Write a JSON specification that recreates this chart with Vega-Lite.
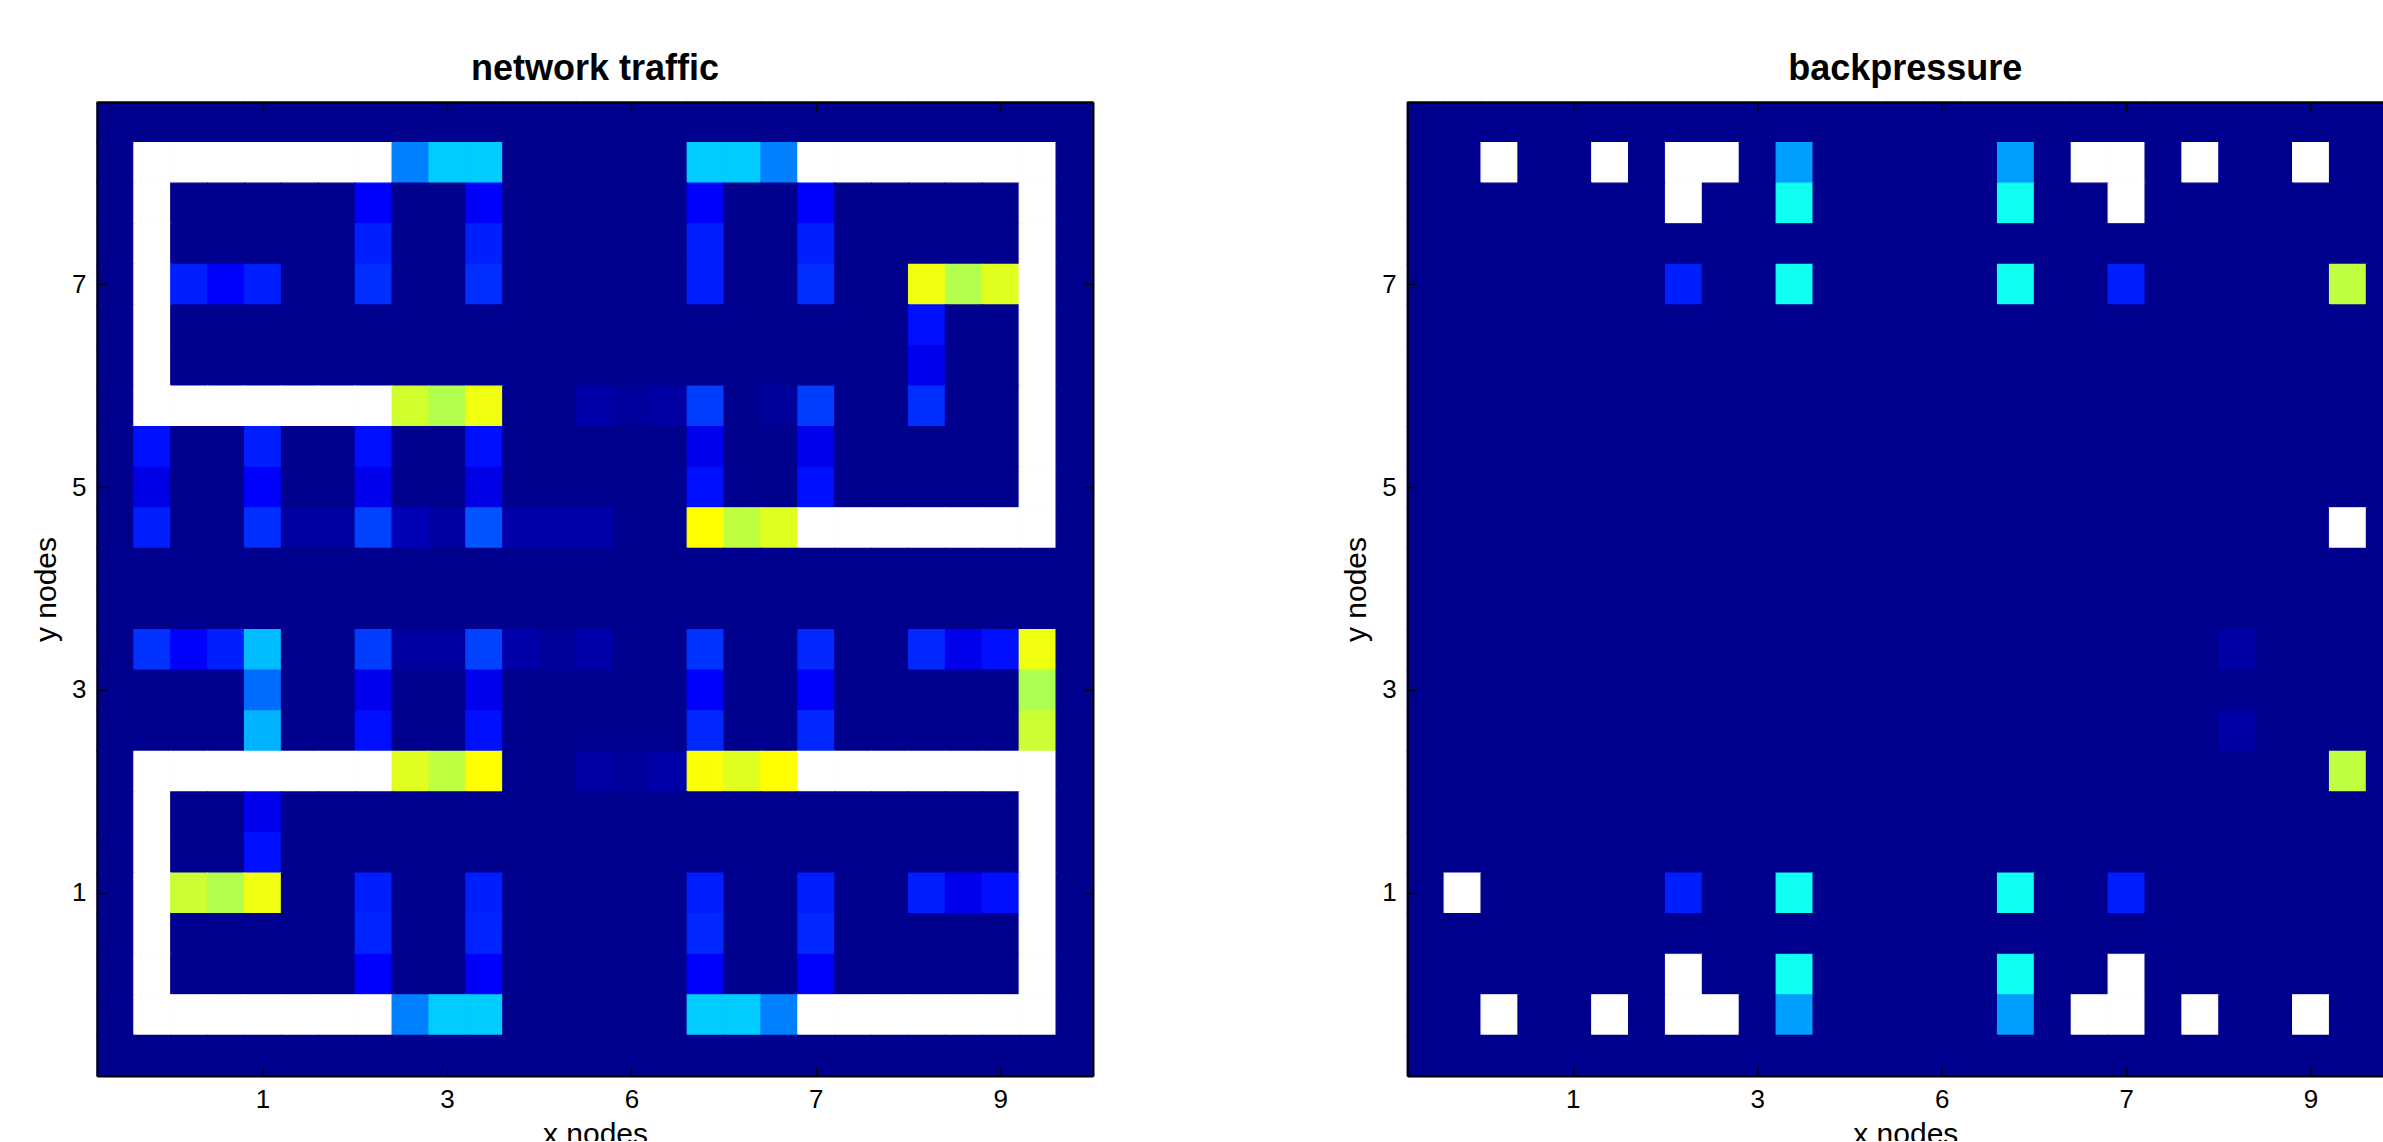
{
"$schema": "https://vega.github.io/schema/vega-lite/v6.json",
"usermeta": {"embedOptions": {"actions": false}},
"background": "white",
"padding": {"left": 31, "top": 51, "right": -22, "bottom": -8},
"config": {"view": {"stroke": null, "fill": "#00008F"}, "font": "Liberation Sans"},
"spacing": 314.3,
"bounds": "flush",
"datasets": {
"traffic": [
{"c":1,"r":1,"v":0},{"c":2,"r":1,"v":0},{"c":3,"r":1,"v":0},{"c":4,"r":1,"v":0},{"c":5,"r":1,"v":0},{"c":6,"r":1,"v":0},{"c":7,"r":1,"v":0},{"c":8,"r":1,"v":0},{"c":9,"r":1,"v":0},{"c":10,"r":1,"v":0},{"c":11,"r":1,"v":0},{"c":12,"r":1,"v":0},{"c":13,"r":1,"v":0},{"c":14,"r":1,"v":0},{"c":15,"r":1,"v":0},{"c":16,"r":1,"v":0},{"c":17,"r":1,"v":0},{"c":18,"r":1,"v":0},{"c":19,"r":1,"v":0},{"c":20,"r":1,"v":0},{"c":21,"r":1,"v":0},{"c":22,"r":1,"v":0},{"c":23,"r":1,"v":0},{"c":24,"r":1,"v":0},{"c":25,"r":1,"v":0},{"c":26,"r":1,"v":0},{"c":27,"r":1,"v":0},
{"c":1,"r":2,"v":0},{"c":2,"r":2,"v":0,"w":1},{"c":3,"r":2,"v":0,"w":1},{"c":4,"r":2,"v":0,"w":1},{"c":5,"r":2,"v":0,"w":1},{"c":6,"r":2,"v":0,"w":1},{"c":7,"r":2,"v":0,"w":1},{"c":8,"r":2,"v":0,"w":1},{"c":9,"r":2,"v":25},{"c":10,"r":2,"v":32.5},{"c":11,"r":2,"v":32.5},{"c":12,"r":2,"v":0},{"c":13,"r":2,"v":0},{"c":14,"r":2,"v":0},{"c":15,"r":2,"v":0},{"c":16,"r":2,"v":0},{"c":17,"r":2,"v":32.5},{"c":18,"r":2,"v":32.5},{"c":19,"r":2,"v":25},{"c":20,"r":2,"v":0,"w":1},{"c":21,"r":2,"v":0,"w":1},{"c":22,"r":2,"v":0,"w":1},{"c":23,"r":2,"v":0,"w":1},{"c":24,"r":2,"v":0,"w":1},{"c":25,"r":2,"v":0,"w":1},{"c":26,"r":2,"v":0,"w":1},{"c":27,"r":2,"v":0},
{"c":1,"r":3,"v":0},{"c":2,"r":3,"v":0,"w":1},{"c":3,"r":3,"v":0},{"c":4,"r":3,"v":0},{"c":5,"r":3,"v":0},{"c":6,"r":3,"v":0},{"c":7,"r":3,"v":0},{"c":8,"r":3,"v":12.5},{"c":9,"r":3,"v":0},{"c":10,"r":3,"v":0},{"c":11,"r":3,"v":12.5},{"c":12,"r":3,"v":0},{"c":13,"r":3,"v":0},{"c":14,"r":3,"v":0},{"c":15,"r":3,"v":0},{"c":16,"r":3,"v":0},{"c":17,"r":3,"v":12.5},{"c":18,"r":3,"v":0},{"c":19,"r":3,"v":0},{"c":20,"r":3,"v":12.5},{"c":21,"r":3,"v":0},{"c":22,"r":3,"v":0},{"c":23,"r":3,"v":0},{"c":24,"r":3,"v":0},{"c":25,"r":3,"v":0},{"c":26,"r":3,"v":0,"w":1},{"c":27,"r":3,"v":0},
{"c":1,"r":4,"v":0},{"c":2,"r":4,"v":0,"w":1},{"c":3,"r":4,"v":0},{"c":4,"r":4,"v":0},{"c":5,"r":4,"v":0},{"c":6,"r":4,"v":0},{"c":7,"r":4,"v":0},{"c":8,"r":4,"v":15.5},{"c":9,"r":4,"v":0},{"c":10,"r":4,"v":0},{"c":11,"r":4,"v":15.5},{"c":12,"r":4,"v":0},{"c":13,"r":4,"v":0},{"c":14,"r":4,"v":0},{"c":15,"r":4,"v":0},{"c":16,"r":4,"v":0},{"c":17,"r":4,"v":15.5},{"c":18,"r":4,"v":0},{"c":19,"r":4,"v":0},{"c":20,"r":4,"v":15.5},{"c":21,"r":4,"v":0},{"c":22,"r":4,"v":0},{"c":23,"r":4,"v":0},{"c":24,"r":4,"v":0},{"c":25,"r":4,"v":0},{"c":26,"r":4,"v":0,"w":1},{"c":27,"r":4,"v":0},
{"c":1,"r":5,"v":0},{"c":2,"r":5,"v":0,"w":1},{"c":3,"r":5,"v":15.5},{"c":4,"r":5,"v":12.5},{"c":5,"r":5,"v":15.5},{"c":6,"r":5,"v":0},{"c":7,"r":5,"v":0},{"c":8,"r":5,"v":17},{"c":9,"r":5,"v":0},{"c":10,"r":5,"v":0},{"c":11,"r":5,"v":17},{"c":12,"r":5,"v":0},{"c":13,"r":5,"v":0},{"c":14,"r":5,"v":0},{"c":15,"r":5,"v":0},{"c":16,"r":5,"v":0},{"c":17,"r":5,"v":15.5},{"c":18,"r":5,"v":0},{"c":19,"r":5,"v":0},{"c":20,"r":5,"v":17},{"c":21,"r":5,"v":0},{"c":22,"r":5,"v":0},{"c":23,"r":5,"v":61},{"c":24,"r":5,"v":55},{"c":25,"r":5,"v":59.5},{"c":26,"r":5,"v":0,"w":1},{"c":27,"r":5,"v":0},
{"c":1,"r":6,"v":0},{"c":2,"r":6,"v":0,"w":1},{"c":3,"r":6,"v":0},{"c":4,"r":6,"v":0},{"c":5,"r":6,"v":0},{"c":6,"r":6,"v":0},{"c":7,"r":6,"v":0},{"c":8,"r":6,"v":0},{"c":9,"r":6,"v":0},{"c":10,"r":6,"v":0},{"c":11,"r":6,"v":0},{"c":12,"r":6,"v":0},{"c":13,"r":6,"v":0},{"c":14,"r":6,"v":0},{"c":15,"r":6,"v":0},{"c":16,"r":6,"v":0},{"c":17,"r":6,"v":0},{"c":18,"r":6,"v":0},{"c":19,"r":6,"v":0},{"c":20,"r":6,"v":0},{"c":21,"r":6,"v":0},{"c":22,"r":6,"v":0},{"c":23,"r":6,"v":14},{"c":24,"r":6,"v":0},{"c":25,"r":6,"v":0},{"c":26,"r":6,"v":0,"w":1},{"c":27,"r":6,"v":0},
{"c":1,"r":7,"v":0},{"c":2,"r":7,"v":0,"w":1},{"c":3,"r":7,"v":0},{"c":4,"r":7,"v":0},{"c":5,"r":7,"v":0},{"c":6,"r":7,"v":0},{"c":7,"r":7,"v":0},{"c":8,"r":7,"v":0},{"c":9,"r":7,"v":0},{"c":10,"r":7,"v":0},{"c":11,"r":7,"v":0},{"c":12,"r":7,"v":0},{"c":13,"r":7,"v":0},{"c":14,"r":7,"v":0},{"c":15,"r":7,"v":0},{"c":16,"r":7,"v":0},{"c":17,"r":7,"v":0},{"c":18,"r":7,"v":0},{"c":19,"r":7,"v":0},{"c":20,"r":7,"v":0},{"c":21,"r":7,"v":0},{"c":22,"r":7,"v":0},{"c":23,"r":7,"v":10.5},{"c":24,"r":7,"v":0},{"c":25,"r":7,"v":0},{"c":26,"r":7,"v":0,"w":1},{"c":27,"r":7,"v":0},
{"c":1,"r":8,"v":0},{"c":2,"r":8,"v":0,"w":1},{"c":3,"r":8,"v":0,"w":1},{"c":4,"r":8,"v":0,"w":1},{"c":5,"r":8,"v":0,"w":1},{"c":6,"r":8,"v":0,"w":1},{"c":7,"r":8,"v":0,"w":1},{"c":8,"r":8,"v":0,"w":1},{"c":9,"r":8,"v":58},{"c":10,"r":8,"v":55},{"c":11,"r":8,"v":61},{"c":12,"r":8,"v":0},{"c":13,"r":8,"v":0},{"c":14,"r":8,"v":3},{"c":15,"r":8,"v":1.5},{"c":16,"r":8,"v":2.5},{"c":17,"r":8,"v":18.5},{"c":18,"r":8,"v":0},{"c":19,"r":8,"v":1.2},{"c":20,"r":8,"v":18.5},{"c":21,"r":8,"v":0},{"c":22,"r":8,"v":0},{"c":23,"r":8,"v":17},{"c":24,"r":8,"v":0},{"c":25,"r":8,"v":0},{"c":26,"r":8,"v":0,"w":1},{"c":27,"r":8,"v":0},
{"c":1,"r":9,"v":0},{"c":2,"r":9,"v":14},{"c":3,"r":9,"v":0},{"c":4,"r":9,"v":0},{"c":5,"r":9,"v":15.5},{"c":6,"r":9,"v":0},{"c":7,"r":9,"v":0},{"c":8,"r":9,"v":14},{"c":9,"r":9,"v":0},{"c":10,"r":9,"v":0},{"c":11,"r":9,"v":14},{"c":12,"r":9,"v":0},{"c":13,"r":9,"v":0},{"c":14,"r":9,"v":0},{"c":15,"r":9,"v":0},{"c":16,"r":9,"v":0},{"c":17,"r":9,"v":10.5},{"c":18,"r":9,"v":0},{"c":19,"r":9,"v":0},{"c":20,"r":9,"v":10.5},{"c":21,"r":9,"v":0},{"c":22,"r":9,"v":0},{"c":23,"r":9,"v":0},{"c":24,"r":9,"v":0},{"c":25,"r":9,"v":0},{"c":26,"r":9,"v":0,"w":1},{"c":27,"r":9,"v":0},
{"c":1,"r":10,"v":0},{"c":2,"r":10,"v":9.5},{"c":3,"r":10,"v":0},{"c":4,"r":10,"v":0},{"c":5,"r":10,"v":12.5},{"c":6,"r":10,"v":0},{"c":7,"r":10,"v":0},{"c":8,"r":10,"v":10.5},{"c":9,"r":10,"v":0},{"c":10,"r":10,"v":0},{"c":11,"r":10,"v":9.6},{"c":12,"r":10,"v":0},{"c":13,"r":10,"v":0},{"c":14,"r":10,"v":0},{"c":15,"r":10,"v":0},{"c":16,"r":10,"v":0},{"c":17,"r":10,"v":14},{"c":18,"r":10,"v":0},{"c":19,"r":10,"v":0},{"c":20,"r":10,"v":14},{"c":21,"r":10,"v":0},{"c":22,"r":10,"v":0},{"c":23,"r":10,"v":0},{"c":24,"r":10,"v":0},{"c":25,"r":10,"v":0},{"c":26,"r":10,"v":0,"w":1},{"c":27,"r":10,"v":0},
{"c":1,"r":11,"v":0},{"c":2,"r":11,"v":15.5},{"c":3,"r":11,"v":0},{"c":4,"r":11,"v":0},{"c":5,"r":11,"v":17},{"c":6,"r":11,"v":2},{"c":7,"r":11,"v":2},{"c":8,"r":11,"v":19},{"c":9,"r":11,"v":4.3},{"c":10,"r":11,"v":2},{"c":11,"r":11,"v":20.8},{"c":12,"r":11,"v":3},{"c":13,"r":11,"v":3},{"c":14,"r":11,"v":3},{"c":15,"r":11,"v":0},{"c":16,"r":11,"v":0},{"c":17,"r":11,"v":62.5},{"c":18,"r":11,"v":56.3},{"c":19,"r":11,"v":59.5},{"c":20,"r":11,"v":0,"w":1},{"c":21,"r":11,"v":0,"w":1},{"c":22,"r":11,"v":0,"w":1},{"c":23,"r":11,"v":0,"w":1},{"c":24,"r":11,"v":0,"w":1},{"c":25,"r":11,"v":0,"w":1},{"c":26,"r":11,"v":0,"w":1},{"c":27,"r":11,"v":0},
{"c":1,"r":12,"v":0},{"c":2,"r":12,"v":0},{"c":3,"r":12,"v":0},{"c":4,"r":12,"v":0},{"c":5,"r":12,"v":0},{"c":6,"r":12,"v":0},{"c":7,"r":12,"v":0},{"c":8,"r":12,"v":0},{"c":9,"r":12,"v":0},{"c":10,"r":12,"v":0},{"c":11,"r":12,"v":0},{"c":12,"r":12,"v":0},{"c":13,"r":12,"v":0},{"c":14,"r":12,"v":0},{"c":15,"r":12,"v":0},{"c":16,"r":12,"v":0},{"c":17,"r":12,"v":0},{"c":18,"r":12,"v":0},{"c":19,"r":12,"v":0},{"c":20,"r":12,"v":0},{"c":21,"r":12,"v":0},{"c":22,"r":12,"v":0},{"c":23,"r":12,"v":0},{"c":24,"r":12,"v":0},{"c":25,"r":12,"v":0},{"c":26,"r":12,"v":0},{"c":27,"r":12,"v":0},
{"c":1,"r":13,"v":0},{"c":2,"r":13,"v":0},{"c":3,"r":13,"v":0},{"c":4,"r":13,"v":0},{"c":5,"r":13,"v":0},{"c":6,"r":13,"v":0},{"c":7,"r":13,"v":0},{"c":8,"r":13,"v":0},{"c":9,"r":13,"v":0},{"c":10,"r":13,"v":0},{"c":11,"r":13,"v":0},{"c":12,"r":13,"v":0},{"c":13,"r":13,"v":0},{"c":14,"r":13,"v":0},{"c":15,"r":13,"v":0},{"c":16,"r":13,"v":0},{"c":17,"r":13,"v":0},{"c":18,"r":13,"v":0},{"c":19,"r":13,"v":0},{"c":20,"r":13,"v":0},{"c":21,"r":13,"v":0},{"c":22,"r":13,"v":0},{"c":23,"r":13,"v":0},{"c":24,"r":13,"v":0},{"c":25,"r":13,"v":0},{"c":26,"r":13,"v":0},{"c":27,"r":13,"v":0},
{"c":1,"r":14,"v":0},{"c":2,"r":14,"v":17.5},{"c":3,"r":14,"v":12.5},{"c":4,"r":14,"v":15.5},{"c":5,"r":14,"v":31},{"c":6,"r":14,"v":0},{"c":7,"r":14,"v":0},{"c":8,"r":14,"v":18.5},{"c":9,"r":14,"v":2},{"c":10,"r":14,"v":2},{"c":11,"r":14,"v":19},{"c":12,"r":14,"v":3},{"c":13,"r":14,"v":1.2},{"c":14,"r":14,"v":3},{"c":15,"r":14,"v":0},{"c":16,"r":14,"v":0},{"c":17,"r":14,"v":17.5},{"c":18,"r":14,"v":0},{"c":19,"r":14,"v":0},{"c":20,"r":14,"v":16.4},{"c":21,"r":14,"v":0},{"c":22,"r":14,"v":0},{"c":23,"r":14,"v":16.4},{"c":24,"r":14,"v":10.5},{"c":25,"r":14,"v":14},{"c":26,"r":14,"v":61},{"c":27,"r":14,"v":0},
{"c":1,"r":15,"v":0},{"c":2,"r":15,"v":0},{"c":3,"r":15,"v":0},{"c":4,"r":15,"v":0},{"c":5,"r":15,"v":23},{"c":6,"r":15,"v":0},{"c":7,"r":15,"v":0},{"c":8,"r":15,"v":10.5},{"c":9,"r":15,"v":0},{"c":10,"r":15,"v":0},{"c":11,"r":15,"v":10.5},{"c":12,"r":15,"v":0},{"c":13,"r":15,"v":0},{"c":14,"r":15,"v":0},{"c":15,"r":15,"v":0},{"c":16,"r":15,"v":0},{"c":17,"r":15,"v":12.5},{"c":18,"r":15,"v":0},{"c":19,"r":15,"v":0},{"c":20,"r":15,"v":12.5},{"c":21,"r":15,"v":0},{"c":22,"r":15,"v":0},{"c":23,"r":15,"v":0},{"c":24,"r":15,"v":0},{"c":25,"r":15,"v":0},{"c":26,"r":15,"v":54.5},{"c":27,"r":15,"v":0},
{"c":1,"r":16,"v":0},{"c":2,"r":16,"v":0},{"c":3,"r":16,"v":0},{"c":4,"r":16,"v":0},{"c":5,"r":16,"v":30},{"c":6,"r":16,"v":0},{"c":7,"r":16,"v":0},{"c":8,"r":16,"v":14},{"c":9,"r":16,"v":0},{"c":10,"r":16,"v":0},{"c":11,"r":16,"v":14},{"c":12,"r":16,"v":0},{"c":13,"r":16,"v":0},{"c":14,"r":16,"v":0},{"c":15,"r":16,"v":0},{"c":16,"r":16,"v":0},{"c":17,"r":16,"v":16.4},{"c":18,"r":16,"v":0},{"c":19,"r":16,"v":0},{"c":20,"r":16,"v":16.4},{"c":21,"r":16,"v":0},{"c":22,"r":16,"v":0},{"c":23,"r":16,"v":0},{"c":24,"r":16,"v":0},{"c":25,"r":16,"v":0},{"c":26,"r":16,"v":57.5},{"c":27,"r":16,"v":0},
{"c":1,"r":17,"v":0},{"c":2,"r":17,"v":0,"w":1},{"c":3,"r":17,"v":0,"w":1},{"c":4,"r":17,"v":0,"w":1},{"c":5,"r":17,"v":0,"w":1},{"c":6,"r":17,"v":0,"w":1},{"c":7,"r":17,"v":0,"w":1},{"c":8,"r":17,"v":0,"w":1},{"c":9,"r":17,"v":59.5},{"c":10,"r":17,"v":56.3},{"c":11,"r":17,"v":62.5},{"c":12,"r":17,"v":0},{"c":13,"r":17,"v":0},{"c":14,"r":17,"v":2.5},{"c":15,"r":17,"v":1.2},{"c":16,"r":17,"v":3},{"c":17,"r":17,"v":62},{"c":18,"r":17,"v":59.5},{"c":19,"r":17,"v":62.5},{"c":20,"r":17,"v":0,"w":1},{"c":21,"r":17,"v":0,"w":1},{"c":22,"r":17,"v":0,"w":1},{"c":23,"r":17,"v":0,"w":1},{"c":24,"r":17,"v":0,"w":1},{"c":25,"r":17,"v":0,"w":1},{"c":26,"r":17,"v":0,"w":1},{"c":27,"r":17,"v":0},
{"c":1,"r":18,"v":0},{"c":2,"r":18,"v":0,"w":1},{"c":3,"r":18,"v":0},{"c":4,"r":18,"v":0},{"c":5,"r":18,"v":10.5},{"c":6,"r":18,"v":0},{"c":7,"r":18,"v":0},{"c":8,"r":18,"v":0},{"c":9,"r":18,"v":0},{"c":10,"r":18,"v":0},{"c":11,"r":18,"v":0},{"c":12,"r":18,"v":0},{"c":13,"r":18,"v":0},{"c":14,"r":18,"v":0},{"c":15,"r":18,"v":0},{"c":16,"r":18,"v":0},{"c":17,"r":18,"v":0},{"c":18,"r":18,"v":0},{"c":19,"r":18,"v":0},{"c":20,"r":18,"v":0},{"c":21,"r":18,"v":0},{"c":22,"r":18,"v":0},{"c":23,"r":18,"v":0},{"c":24,"r":18,"v":0},{"c":25,"r":18,"v":0},{"c":26,"r":18,"v":0,"w":1},{"c":27,"r":18,"v":0},
{"c":1,"r":19,"v":0},{"c":2,"r":19,"v":0,"w":1},{"c":3,"r":19,"v":0},{"c":4,"r":19,"v":0},{"c":5,"r":19,"v":14},{"c":6,"r":19,"v":0},{"c":7,"r":19,"v":0},{"c":8,"r":19,"v":0},{"c":9,"r":19,"v":0},{"c":10,"r":19,"v":0},{"c":11,"r":19,"v":0},{"c":12,"r":19,"v":0},{"c":13,"r":19,"v":0},{"c":14,"r":19,"v":0},{"c":15,"r":19,"v":0},{"c":16,"r":19,"v":0},{"c":17,"r":19,"v":0},{"c":18,"r":19,"v":0},{"c":19,"r":19,"v":0},{"c":20,"r":19,"v":0},{"c":21,"r":19,"v":0},{"c":22,"r":19,"v":0},{"c":23,"r":19,"v":0},{"c":24,"r":19,"v":0},{"c":25,"r":19,"v":0},{"c":26,"r":19,"v":0,"w":1},{"c":27,"r":19,"v":0},
{"c":1,"r":20,"v":0},{"c":2,"r":20,"v":0,"w":1},{"c":3,"r":20,"v":57.5},{"c":4,"r":20,"v":55},{"c":5,"r":20,"v":61},{"c":6,"r":20,"v":0},{"c":7,"r":20,"v":0},{"c":8,"r":20,"v":15.5},{"c":9,"r":20,"v":0},{"c":10,"r":20,"v":0},{"c":11,"r":20,"v":15.5},{"c":12,"r":20,"v":0},{"c":13,"r":20,"v":0},{"c":14,"r":20,"v":0},{"c":15,"r":20,"v":0},{"c":16,"r":20,"v":0},{"c":17,"r":20,"v":15.5},{"c":18,"r":20,"v":0},{"c":19,"r":20,"v":0},{"c":20,"r":20,"v":15.5},{"c":21,"r":20,"v":0},{"c":22,"r":20,"v":0},{"c":23,"r":20,"v":15.5},{"c":24,"r":20,"v":10.5},{"c":25,"r":20,"v":14},{"c":26,"r":20,"v":0,"w":1},{"c":27,"r":20,"v":0},
{"c":1,"r":21,"v":0},{"c":2,"r":21,"v":0,"w":1},{"c":3,"r":21,"v":0},{"c":4,"r":21,"v":0},{"c":5,"r":21,"v":0},{"c":6,"r":21,"v":0},{"c":7,"r":21,"v":0},{"c":8,"r":21,"v":16},{"c":9,"r":21,"v":0},{"c":10,"r":21,"v":0},{"c":11,"r":21,"v":16},{"c":12,"r":21,"v":0},{"c":13,"r":21,"v":0},{"c":14,"r":21,"v":0},{"c":15,"r":21,"v":0},{"c":16,"r":21,"v":0},{"c":17,"r":21,"v":16.4},{"c":18,"r":21,"v":0},{"c":19,"r":21,"v":0},{"c":20,"r":21,"v":16.4},{"c":21,"r":21,"v":0},{"c":22,"r":21,"v":0},{"c":23,"r":21,"v":0},{"c":24,"r":21,"v":0},{"c":25,"r":21,"v":0},{"c":26,"r":21,"v":0,"w":1},{"c":27,"r":21,"v":0},
{"c":1,"r":22,"v":0},{"c":2,"r":22,"v":0,"w":1},{"c":3,"r":22,"v":0},{"c":4,"r":22,"v":0},{"c":5,"r":22,"v":0},{"c":6,"r":22,"v":0},{"c":7,"r":22,"v":0},{"c":8,"r":22,"v":12.5},{"c":9,"r":22,"v":0},{"c":10,"r":22,"v":0},{"c":11,"r":22,"v":12.5},{"c":12,"r":22,"v":0},{"c":13,"r":22,"v":0},{"c":14,"r":22,"v":0},{"c":15,"r":22,"v":0},{"c":16,"r":22,"v":0},{"c":17,"r":22,"v":12.5},{"c":18,"r":22,"v":0},{"c":19,"r":22,"v":0},{"c":20,"r":22,"v":12.5},{"c":21,"r":22,"v":0},{"c":22,"r":22,"v":0},{"c":23,"r":22,"v":0},{"c":24,"r":22,"v":0},{"c":25,"r":22,"v":0},{"c":26,"r":22,"v":0,"w":1},{"c":27,"r":22,"v":0},
{"c":1,"r":23,"v":0},{"c":2,"r":23,"v":0,"w":1},{"c":3,"r":23,"v":0,"w":1},{"c":4,"r":23,"v":0,"w":1},{"c":5,"r":23,"v":0,"w":1},{"c":6,"r":23,"v":0,"w":1},{"c":7,"r":23,"v":0,"w":1},{"c":8,"r":23,"v":0,"w":1},{"c":9,"r":23,"v":25},{"c":10,"r":23,"v":32.5},{"c":11,"r":23,"v":32.5},{"c":12,"r":23,"v":0},{"c":13,"r":23,"v":0},{"c":14,"r":23,"v":0},{"c":15,"r":23,"v":0},{"c":16,"r":23,"v":0},{"c":17,"r":23,"v":32.5},{"c":18,"r":23,"v":32.5},{"c":19,"r":23,"v":25},{"c":20,"r":23,"v":0,"w":1},{"c":21,"r":23,"v":0,"w":1},{"c":22,"r":23,"v":0,"w":1},{"c":23,"r":23,"v":0,"w":1},{"c":24,"r":23,"v":0,"w":1},{"c":25,"r":23,"v":0,"w":1},{"c":26,"r":23,"v":0,"w":1},{"c":27,"r":23,"v":0},
{"c":1,"r":24,"v":0},{"c":2,"r":24,"v":0},{"c":3,"r":24,"v":0},{"c":4,"r":24,"v":0},{"c":5,"r":24,"v":0},{"c":6,"r":24,"v":0},{"c":7,"r":24,"v":0},{"c":8,"r":24,"v":0},{"c":9,"r":24,"v":0},{"c":10,"r":24,"v":0},{"c":11,"r":24,"v":0},{"c":12,"r":24,"v":0},{"c":13,"r":24,"v":0},{"c":14,"r":24,"v":0},{"c":15,"r":24,"v":0},{"c":16,"r":24,"v":0},{"c":17,"r":24,"v":0},{"c":18,"r":24,"v":0},{"c":19,"r":24,"v":0},{"c":20,"r":24,"v":0},{"c":21,"r":24,"v":0},{"c":22,"r":24,"v":0},{"c":23,"r":24,"v":0},{"c":24,"r":24,"v":0},{"c":25,"r":24,"v":0},{"c":26,"r":24,"v":0},{"c":27,"r":24,"v":0}
],
"bp": [
{"c":1,"r":1,"v":0},{"c":2,"r":1,"v":0},{"c":3,"r":1,"v":0},{"c":4,"r":1,"v":0},{"c":5,"r":1,"v":0},{"c":6,"r":1,"v":0},{"c":7,"r":1,"v":0},{"c":8,"r":1,"v":0},{"c":9,"r":1,"v":0},{"c":10,"r":1,"v":0},{"c":11,"r":1,"v":0},{"c":12,"r":1,"v":0},{"c":13,"r":1,"v":0},{"c":14,"r":1,"v":0},{"c":15,"r":1,"v":0},{"c":16,"r":1,"v":0},{"c":17,"r":1,"v":0},{"c":18,"r":1,"v":0},{"c":19,"r":1,"v":0},{"c":20,"r":1,"v":0},{"c":21,"r":1,"v":0},{"c":22,"r":1,"v":0},{"c":23,"r":1,"v":0},{"c":24,"r":1,"v":0},{"c":25,"r":1,"v":0},{"c":26,"r":1,"v":0},{"c":27,"r":1,"v":0},
{"c":1,"r":2,"v":0},{"c":2,"r":2,"v":0},{"c":3,"r":2,"v":0,"w":1},{"c":4,"r":2,"v":0},{"c":5,"r":2,"v":0},{"c":6,"r":2,"v":0,"w":1},{"c":7,"r":2,"v":0},{"c":8,"r":2,"v":0,"w":1},{"c":9,"r":2,"v":0,"w":1},{"c":10,"r":2,"v":0},{"c":11,"r":2,"v":28},{"c":12,"r":2,"v":0},{"c":13,"r":2,"v":0},{"c":14,"r":2,"v":0},{"c":15,"r":2,"v":0},{"c":16,"r":2,"v":0},{"c":17,"r":2,"v":28},{"c":18,"r":2,"v":0},{"c":19,"r":2,"v":0,"w":1},{"c":20,"r":2,"v":0,"w":1},{"c":21,"r":2,"v":0},{"c":22,"r":2,"v":0,"w":1},{"c":23,"r":2,"v":0},{"c":24,"r":2,"v":0},{"c":25,"r":2,"v":0,"w":1},{"c":26,"r":2,"v":0},{"c":27,"r":2,"v":0},
{"c":1,"r":3,"v":0},{"c":2,"r":3,"v":0},{"c":3,"r":3,"v":0},{"c":4,"r":3,"v":0},{"c":5,"r":3,"v":0},{"c":6,"r":3,"v":0},{"c":7,"r":3,"v":0},{"c":8,"r":3,"v":0,"w":1},{"c":9,"r":3,"v":0},{"c":10,"r":3,"v":0},{"c":11,"r":3,"v":39},{"c":12,"r":3,"v":0},{"c":13,"r":3,"v":0},{"c":14,"r":3,"v":0},{"c":15,"r":3,"v":0},{"c":16,"r":3,"v":0},{"c":17,"r":3,"v":39},{"c":18,"r":3,"v":0},{"c":19,"r":3,"v":0},{"c":20,"r":3,"v":0,"w":1},{"c":21,"r":3,"v":0},{"c":22,"r":3,"v":0},{"c":23,"r":3,"v":0},{"c":24,"r":3,"v":0},{"c":25,"r":3,"v":0},{"c":26,"r":3,"v":0},{"c":27,"r":3,"v":0},
{"c":1,"r":4,"v":0},{"c":2,"r":4,"v":0},{"c":3,"r":4,"v":0},{"c":4,"r":4,"v":0},{"c":5,"r":4,"v":0},{"c":6,"r":4,"v":0},{"c":7,"r":4,"v":0},{"c":8,"r":4,"v":0},{"c":9,"r":4,"v":0},{"c":10,"r":4,"v":0},{"c":11,"r":4,"v":0},{"c":12,"r":4,"v":0},{"c":13,"r":4,"v":0},{"c":14,"r":4,"v":0},{"c":15,"r":4,"v":0},{"c":16,"r":4,"v":0},{"c":17,"r":4,"v":0},{"c":18,"r":4,"v":0},{"c":19,"r":4,"v":0},{"c":20,"r":4,"v":0},{"c":21,"r":4,"v":0},{"c":22,"r":4,"v":0},{"c":23,"r":4,"v":0},{"c":24,"r":4,"v":0},{"c":25,"r":4,"v":0},{"c":26,"r":4,"v":0},{"c":27,"r":4,"v":0},
{"c":1,"r":5,"v":0},{"c":2,"r":5,"v":0},{"c":3,"r":5,"v":0},{"c":4,"r":5,"v":0},{"c":5,"r":5,"v":0},{"c":6,"r":5,"v":0},{"c":7,"r":5,"v":0},{"c":8,"r":5,"v":15.5},{"c":9,"r":5,"v":0},{"c":10,"r":5,"v":0},{"c":11,"r":5,"v":39},{"c":12,"r":5,"v":0},{"c":13,"r":5,"v":0},{"c":14,"r":5,"v":0},{"c":15,"r":5,"v":0},{"c":16,"r":5,"v":0},{"c":17,"r":5,"v":39},{"c":18,"r":5,"v":0},{"c":19,"r":5,"v":0},{"c":20,"r":5,"v":15.5},{"c":21,"r":5,"v":0},{"c":22,"r":5,"v":0},{"c":23,"r":5,"v":0},{"c":24,"r":5,"v":0},{"c":25,"r":5,"v":0},{"c":26,"r":5,"v":56.3},{"c":27,"r":5,"v":0},
{"c":1,"r":6,"v":0},{"c":2,"r":6,"v":0},{"c":3,"r":6,"v":0},{"c":4,"r":6,"v":0},{"c":5,"r":6,"v":0},{"c":6,"r":6,"v":0},{"c":7,"r":6,"v":0},{"c":8,"r":6,"v":0},{"c":9,"r":6,"v":0},{"c":10,"r":6,"v":0},{"c":11,"r":6,"v":0},{"c":12,"r":6,"v":0},{"c":13,"r":6,"v":0},{"c":14,"r":6,"v":0},{"c":15,"r":6,"v":0},{"c":16,"r":6,"v":0},{"c":17,"r":6,"v":0},{"c":18,"r":6,"v":0},{"c":19,"r":6,"v":0},{"c":20,"r":6,"v":0},{"c":21,"r":6,"v":0},{"c":22,"r":6,"v":0},{"c":23,"r":6,"v":0},{"c":24,"r":6,"v":0},{"c":25,"r":6,"v":0},{"c":26,"r":6,"v":0},{"c":27,"r":6,"v":0},
{"c":1,"r":7,"v":0},{"c":2,"r":7,"v":0},{"c":3,"r":7,"v":0},{"c":4,"r":7,"v":0},{"c":5,"r":7,"v":0},{"c":6,"r":7,"v":0},{"c":7,"r":7,"v":0},{"c":8,"r":7,"v":0},{"c":9,"r":7,"v":0},{"c":10,"r":7,"v":0},{"c":11,"r":7,"v":0},{"c":12,"r":7,"v":0},{"c":13,"r":7,"v":0},{"c":14,"r":7,"v":0},{"c":15,"r":7,"v":0},{"c":16,"r":7,"v":0},{"c":17,"r":7,"v":0},{"c":18,"r":7,"v":0},{"c":19,"r":7,"v":0},{"c":20,"r":7,"v":0},{"c":21,"r":7,"v":0},{"c":22,"r":7,"v":0},{"c":23,"r":7,"v":0},{"c":24,"r":7,"v":0},{"c":25,"r":7,"v":0},{"c":26,"r":7,"v":0},{"c":27,"r":7,"v":0},
{"c":1,"r":8,"v":0},{"c":2,"r":8,"v":0},{"c":3,"r":8,"v":0},{"c":4,"r":8,"v":0},{"c":5,"r":8,"v":0},{"c":6,"r":8,"v":0},{"c":7,"r":8,"v":0},{"c":8,"r":8,"v":0},{"c":9,"r":8,"v":0},{"c":10,"r":8,"v":0},{"c":11,"r":8,"v":0},{"c":12,"r":8,"v":0},{"c":13,"r":8,"v":0},{"c":14,"r":8,"v":0},{"c":15,"r":8,"v":0},{"c":16,"r":8,"v":0},{"c":17,"r":8,"v":0},{"c":18,"r":8,"v":0},{"c":19,"r":8,"v":0},{"c":20,"r":8,"v":0},{"c":21,"r":8,"v":0},{"c":22,"r":8,"v":0},{"c":23,"r":8,"v":0},{"c":24,"r":8,"v":0},{"c":25,"r":8,"v":0},{"c":26,"r":8,"v":0},{"c":27,"r":8,"v":0},
{"c":1,"r":9,"v":0},{"c":2,"r":9,"v":0},{"c":3,"r":9,"v":0},{"c":4,"r":9,"v":0},{"c":5,"r":9,"v":0},{"c":6,"r":9,"v":0},{"c":7,"r":9,"v":0},{"c":8,"r":9,"v":0},{"c":9,"r":9,"v":0},{"c":10,"r":9,"v":0},{"c":11,"r":9,"v":0},{"c":12,"r":9,"v":0},{"c":13,"r":9,"v":0},{"c":14,"r":9,"v":0},{"c":15,"r":9,"v":0},{"c":16,"r":9,"v":0},{"c":17,"r":9,"v":0},{"c":18,"r":9,"v":0},{"c":19,"r":9,"v":0},{"c":20,"r":9,"v":0},{"c":21,"r":9,"v":0},{"c":22,"r":9,"v":0},{"c":23,"r":9,"v":0},{"c":24,"r":9,"v":0},{"c":25,"r":9,"v":0},{"c":26,"r":9,"v":0},{"c":27,"r":9,"v":0},
{"c":1,"r":10,"v":0},{"c":2,"r":10,"v":0},{"c":3,"r":10,"v":0},{"c":4,"r":10,"v":0},{"c":5,"r":10,"v":0},{"c":6,"r":10,"v":0},{"c":7,"r":10,"v":0},{"c":8,"r":10,"v":0},{"c":9,"r":10,"v":0},{"c":10,"r":10,"v":0},{"c":11,"r":10,"v":0},{"c":12,"r":10,"v":0},{"c":13,"r":10,"v":0},{"c":14,"r":10,"v":0},{"c":15,"r":10,"v":0},{"c":16,"r":10,"v":0},{"c":17,"r":10,"v":0},{"c":18,"r":10,"v":0},{"c":19,"r":10,"v":0},{"c":20,"r":10,"v":0},{"c":21,"r":10,"v":0},{"c":22,"r":10,"v":0},{"c":23,"r":10,"v":0},{"c":24,"r":10,"v":0},{"c":25,"r":10,"v":0},{"c":26,"r":10,"v":0},{"c":27,"r":10,"v":0},
{"c":1,"r":11,"v":0},{"c":2,"r":11,"v":0},{"c":3,"r":11,"v":0},{"c":4,"r":11,"v":0},{"c":5,"r":11,"v":0},{"c":6,"r":11,"v":0},{"c":7,"r":11,"v":0},{"c":8,"r":11,"v":0},{"c":9,"r":11,"v":0},{"c":10,"r":11,"v":0},{"c":11,"r":11,"v":0},{"c":12,"r":11,"v":0},{"c":13,"r":11,"v":0},{"c":14,"r":11,"v":0},{"c":15,"r":11,"v":0},{"c":16,"r":11,"v":0},{"c":17,"r":11,"v":0},{"c":18,"r":11,"v":0},{"c":19,"r":11,"v":0},{"c":20,"r":11,"v":0},{"c":21,"r":11,"v":0},{"c":22,"r":11,"v":0},{"c":23,"r":11,"v":0},{"c":24,"r":11,"v":0},{"c":25,"r":11,"v":0},{"c":26,"r":11,"v":0,"w":1},{"c":27,"r":11,"v":0},
{"c":1,"r":12,"v":0},{"c":2,"r":12,"v":0},{"c":3,"r":12,"v":0},{"c":4,"r":12,"v":0},{"c":5,"r":12,"v":0},{"c":6,"r":12,"v":0},{"c":7,"r":12,"v":0},{"c":8,"r":12,"v":0},{"c":9,"r":12,"v":0},{"c":10,"r":12,"v":0},{"c":11,"r":12,"v":0},{"c":12,"r":12,"v":0},{"c":13,"r":12,"v":0},{"c":14,"r":12,"v":0},{"c":15,"r":12,"v":0},{"c":16,"r":12,"v":0},{"c":17,"r":12,"v":0},{"c":18,"r":12,"v":0},{"c":19,"r":12,"v":0},{"c":20,"r":12,"v":0},{"c":21,"r":12,"v":0},{"c":22,"r":12,"v":0},{"c":23,"r":12,"v":0},{"c":24,"r":12,"v":0},{"c":25,"r":12,"v":0},{"c":26,"r":12,"v":0},{"c":27,"r":12,"v":0},
{"c":1,"r":13,"v":0},{"c":2,"r":13,"v":0},{"c":3,"r":13,"v":0},{"c":4,"r":13,"v":0},{"c":5,"r":13,"v":0},{"c":6,"r":13,"v":0},{"c":7,"r":13,"v":0},{"c":8,"r":13,"v":0},{"c":9,"r":13,"v":0},{"c":10,"r":13,"v":0},{"c":11,"r":13,"v":0},{"c":12,"r":13,"v":0},{"c":13,"r":13,"v":0},{"c":14,"r":13,"v":0},{"c":15,"r":13,"v":0},{"c":16,"r":13,"v":0},{"c":17,"r":13,"v":0},{"c":18,"r":13,"v":0},{"c":19,"r":13,"v":0},{"c":20,"r":13,"v":0},{"c":21,"r":13,"v":0},{"c":22,"r":13,"v":0},{"c":23,"r":13,"v":0},{"c":24,"r":13,"v":0},{"c":25,"r":13,"v":0},{"c":26,"r":13,"v":0},{"c":27,"r":13,"v":0},
{"c":1,"r":14,"v":0},{"c":2,"r":14,"v":0},{"c":3,"r":14,"v":0},{"c":4,"r":14,"v":0},{"c":5,"r":14,"v":0},{"c":6,"r":14,"v":0},{"c":7,"r":14,"v":0},{"c":8,"r":14,"v":0},{"c":9,"r":14,"v":0},{"c":10,"r":14,"v":0},{"c":11,"r":14,"v":0},{"c":12,"r":14,"v":0},{"c":13,"r":14,"v":0},{"c":14,"r":14,"v":0},{"c":15,"r":14,"v":0},{"c":16,"r":14,"v":0},{"c":17,"r":14,"v":0},{"c":18,"r":14,"v":0},{"c":19,"r":14,"v":0},{"c":20,"r":14,"v":0},{"c":21,"r":14,"v":0},{"c":22,"r":14,"v":0},{"c":23,"r":14,"v":2.5},{"c":24,"r":14,"v":0},{"c":25,"r":14,"v":0},{"c":26,"r":14,"v":0},{"c":27,"r":14,"v":0},
{"c":1,"r":15,"v":0},{"c":2,"r":15,"v":0},{"c":3,"r":15,"v":0},{"c":4,"r":15,"v":0},{"c":5,"r":15,"v":0},{"c":6,"r":15,"v":0},{"c":7,"r":15,"v":0},{"c":8,"r":15,"v":0},{"c":9,"r":15,"v":0},{"c":10,"r":15,"v":0},{"c":11,"r":15,"v":0},{"c":12,"r":15,"v":0},{"c":13,"r":15,"v":0},{"c":14,"r":15,"v":0},{"c":15,"r":15,"v":0},{"c":16,"r":15,"v":0},{"c":17,"r":15,"v":0},{"c":18,"r":15,"v":0},{"c":19,"r":15,"v":0},{"c":20,"r":15,"v":0},{"c":21,"r":15,"v":0},{"c":22,"r":15,"v":0},{"c":23,"r":15,"v":0},{"c":24,"r":15,"v":0},{"c":25,"r":15,"v":0},{"c":26,"r":15,"v":0},{"c":27,"r":15,"v":0},
{"c":1,"r":16,"v":0},{"c":2,"r":16,"v":0},{"c":3,"r":16,"v":0},{"c":4,"r":16,"v":0},{"c":5,"r":16,"v":0},{"c":6,"r":16,"v":0},{"c":7,"r":16,"v":0},{"c":8,"r":16,"v":0},{"c":9,"r":16,"v":0},{"c":10,"r":16,"v":0},{"c":11,"r":16,"v":0},{"c":12,"r":16,"v":0},{"c":13,"r":16,"v":0},{"c":14,"r":16,"v":0},{"c":15,"r":16,"v":0},{"c":16,"r":16,"v":0},{"c":17,"r":16,"v":0},{"c":18,"r":16,"v":0},{"c":19,"r":16,"v":0},{"c":20,"r":16,"v":0},{"c":21,"r":16,"v":0},{"c":22,"r":16,"v":0},{"c":23,"r":16,"v":2.5},{"c":24,"r":16,"v":0},{"c":25,"r":16,"v":0},{"c":26,"r":16,"v":0},{"c":27,"r":16,"v":0},
{"c":1,"r":17,"v":0},{"c":2,"r":17,"v":0},{"c":3,"r":17,"v":0},{"c":4,"r":17,"v":0},{"c":5,"r":17,"v":0},{"c":6,"r":17,"v":0},{"c":7,"r":17,"v":0},{"c":8,"r":17,"v":0},{"c":9,"r":17,"v":0},{"c":10,"r":17,"v":0},{"c":11,"r":17,"v":0},{"c":12,"r":17,"v":0},{"c":13,"r":17,"v":0},{"c":14,"r":17,"v":0},{"c":15,"r":17,"v":0},{"c":16,"r":17,"v":0},{"c":17,"r":17,"v":0},{"c":18,"r":17,"v":0},{"c":19,"r":17,"v":0},{"c":20,"r":17,"v":0},{"c":21,"r":17,"v":0},{"c":22,"r":17,"v":0},{"c":23,"r":17,"v":0},{"c":24,"r":17,"v":0},{"c":25,"r":17,"v":0},{"c":26,"r":17,"v":56.3},{"c":27,"r":17,"v":0},
{"c":1,"r":18,"v":0},{"c":2,"r":18,"v":0},{"c":3,"r":18,"v":0},{"c":4,"r":18,"v":0},{"c":5,"r":18,"v":0},{"c":6,"r":18,"v":0},{"c":7,"r":18,"v":0},{"c":8,"r":18,"v":0},{"c":9,"r":18,"v":0},{"c":10,"r":18,"v":0},{"c":11,"r":18,"v":0},{"c":12,"r":18,"v":0},{"c":13,"r":18,"v":0},{"c":14,"r":18,"v":0},{"c":15,"r":18,"v":0},{"c":16,"r":18,"v":0},{"c":17,"r":18,"v":0},{"c":18,"r":18,"v":0},{"c":19,"r":18,"v":0},{"c":20,"r":18,"v":0},{"c":21,"r":18,"v":0},{"c":22,"r":18,"v":0},{"c":23,"r":18,"v":0},{"c":24,"r":18,"v":0},{"c":25,"r":18,"v":0},{"c":26,"r":18,"v":0},{"c":27,"r":18,"v":0},
{"c":1,"r":19,"v":0},{"c":2,"r":19,"v":0},{"c":3,"r":19,"v":0},{"c":4,"r":19,"v":0},{"c":5,"r":19,"v":0},{"c":6,"r":19,"v":0},{"c":7,"r":19,"v":0},{"c":8,"r":19,"v":0},{"c":9,"r":19,"v":0},{"c":10,"r":19,"v":0},{"c":11,"r":19,"v":0},{"c":12,"r":19,"v":0},{"c":13,"r":19,"v":0},{"c":14,"r":19,"v":0},{"c":15,"r":19,"v":0},{"c":16,"r":19,"v":0},{"c":17,"r":19,"v":0},{"c":18,"r":19,"v":0},{"c":19,"r":19,"v":0},{"c":20,"r":19,"v":0},{"c":21,"r":19,"v":0},{"c":22,"r":19,"v":0},{"c":23,"r":19,"v":0},{"c":24,"r":19,"v":0},{"c":25,"r":19,"v":0},{"c":26,"r":19,"v":0},{"c":27,"r":19,"v":0},
{"c":1,"r":20,"v":0},{"c":2,"r":20,"v":0,"w":1},{"c":3,"r":20,"v":0},{"c":4,"r":20,"v":0},{"c":5,"r":20,"v":0},{"c":6,"r":20,"v":0},{"c":7,"r":20,"v":0},{"c":8,"r":20,"v":15.5},{"c":9,"r":20,"v":0},{"c":10,"r":20,"v":0},{"c":11,"r":20,"v":39},{"c":12,"r":20,"v":0},{"c":13,"r":20,"v":0},{"c":14,"r":20,"v":0},{"c":15,"r":20,"v":0},{"c":16,"r":20,"v":0},{"c":17,"r":20,"v":39},{"c":18,"r":20,"v":0},{"c":19,"r":20,"v":0},{"c":20,"r":20,"v":15.5},{"c":21,"r":20,"v":0},{"c":22,"r":20,"v":0},{"c":23,"r":20,"v":0},{"c":24,"r":20,"v":0},{"c":25,"r":20,"v":0},{"c":26,"r":20,"v":0},{"c":27,"r":20,"v":0},
{"c":1,"r":21,"v":0},{"c":2,"r":21,"v":0},{"c":3,"r":21,"v":0},{"c":4,"r":21,"v":0},{"c":5,"r":21,"v":0},{"c":6,"r":21,"v":0},{"c":7,"r":21,"v":0},{"c":8,"r":21,"v":0},{"c":9,"r":21,"v":0},{"c":10,"r":21,"v":0},{"c":11,"r":21,"v":0},{"c":12,"r":21,"v":0},{"c":13,"r":21,"v":0},{"c":14,"r":21,"v":0},{"c":15,"r":21,"v":0},{"c":16,"r":21,"v":0},{"c":17,"r":21,"v":0},{"c":18,"r":21,"v":0},{"c":19,"r":21,"v":0},{"c":20,"r":21,"v":0},{"c":21,"r":21,"v":0},{"c":22,"r":21,"v":0},{"c":23,"r":21,"v":0},{"c":24,"r":21,"v":0},{"c":25,"r":21,"v":0},{"c":26,"r":21,"v":0},{"c":27,"r":21,"v":0},
{"c":1,"r":22,"v":0},{"c":2,"r":22,"v":0},{"c":3,"r":22,"v":0},{"c":4,"r":22,"v":0},{"c":5,"r":22,"v":0},{"c":6,"r":22,"v":0},{"c":7,"r":22,"v":0},{"c":8,"r":22,"v":0,"w":1},{"c":9,"r":22,"v":0},{"c":10,"r":22,"v":0},{"c":11,"r":22,"v":39},{"c":12,"r":22,"v":0},{"c":13,"r":22,"v":0},{"c":14,"r":22,"v":0},{"c":15,"r":22,"v":0},{"c":16,"r":22,"v":0},{"c":17,"r":22,"v":39},{"c":18,"r":22,"v":0},{"c":19,"r":22,"v":0},{"c":20,"r":22,"v":0,"w":1},{"c":21,"r":22,"v":0},{"c":22,"r":22,"v":0},{"c":23,"r":22,"v":0},{"c":24,"r":22,"v":0},{"c":25,"r":22,"v":0},{"c":26,"r":22,"v":0},{"c":27,"r":22,"v":0},
{"c":1,"r":23,"v":0},{"c":2,"r":23,"v":0},{"c":3,"r":23,"v":0,"w":1},{"c":4,"r":23,"v":0},{"c":5,"r":23,"v":0},{"c":6,"r":23,"v":0,"w":1},{"c":7,"r":23,"v":0},{"c":8,"r":23,"v":0,"w":1},{"c":9,"r":23,"v":0,"w":1},{"c":10,"r":23,"v":0},{"c":11,"r":23,"v":28},{"c":12,"r":23,"v":0},{"c":13,"r":23,"v":0},{"c":14,"r":23,"v":0},{"c":15,"r":23,"v":0},{"c":16,"r":23,"v":0},{"c":17,"r":23,"v":28},{"c":18,"r":23,"v":0},{"c":19,"r":23,"v":0,"w":1},{"c":20,"r":23,"v":0,"w":1},{"c":21,"r":23,"v":0},{"c":22,"r":23,"v":0,"w":1},{"c":23,"r":23,"v":0},{"c":24,"r":23,"v":0},{"c":25,"r":23,"v":0,"w":1},{"c":26,"r":23,"v":0},{"c":27,"r":23,"v":0},
{"c":1,"r":24,"v":0},{"c":2,"r":24,"v":0},{"c":3,"r":24,"v":0},{"c":4,"r":24,"v":0},{"c":5,"r":24,"v":0},{"c":6,"r":24,"v":0},{"c":7,"r":24,"v":0},{"c":8,"r":24,"v":0},{"c":9,"r":24,"v":0},{"c":10,"r":24,"v":0},{"c":11,"r":24,"v":0},{"c":12,"r":24,"v":0},{"c":13,"r":24,"v":0},{"c":14,"r":24,"v":0},{"c":15,"r":24,"v":0},{"c":16,"r":24,"v":0},{"c":17,"r":24,"v":0},{"c":18,"r":24,"v":0},{"c":19,"r":24,"v":0},{"c":20,"r":24,"v":0},{"c":21,"r":24,"v":0},{"c":22,"r":24,"v":0},{"c":23,"r":24,"v":0},{"c":24,"r":24,"v":0},{"c":25,"r":24,"v":0},{"c":26,"r":24,"v":0},{"c":27,"r":24,"v":0}
]
},
"hconcat": [
{
"title": {"text": "network traffic", "fontSize": 36, "fontWeight": "bold", "font": "Liberation Sans", "color": "black", "baseline": "alphabetic", "offset": -15, "anchor": "middle"},
"width": 996, "height": 974,
"data": {"name": "traffic"},
"layer": [
{"mark": {"type": "rect", "strokeWidth": 1.2},
 "encoding": {
  "x": {"field": "c", "type": "ordinal", "scale": {"paddingInner": 0, "paddingOuter": 0},
        "axis": {"orient": "bottom", "values": [5,10,15,20,25], "labelExpr": "datum.value == 5 ? '1' : datum.value == 10 ? '3' : datum.value == 15 ? '6' : datum.value == 20 ? '7' : '9'", "labelAngle": 0, "labelFontSize": 26, "labelFont": "Liberation Sans", "labelColor": "black", "labelPadding": 19, "tickSize": -9, "tickColor": "black", "tickWidth": 1.5, "domainColor": "black", "domainWidth": 2, "grid": false, "title": "x nodes", "titleFontSize": 30, "titleFontWeight": "normal", "titleFont": "Liberation Sans", "titleColor": "black", "titlePadding": 7}},
  "y": {"field": "r", "type": "ordinal", "scale": {"paddingInner": 0, "paddingOuter": 0},
        "axis": {"orient": "left", "values": [5,10,15,20], "labelExpr": "datum.value == 5 ? '7' : datum.value == 10 ? '5' : datum.value == 15 ? '3' : '1'", "labelFontSize": 26, "labelFont": "Liberation Sans", "labelColor": "black", "labelPadding": 20, "tickSize": -9, "tickColor": "black", "tickWidth": 1.5, "domainColor": "black", "domainWidth": 2, "grid": false, "title": "y nodes", "titleFontSize": 30, "titleFontWeight": "normal", "titleFont": "Liberation Sans", "titleColor": "black", "titlePadding": 10}},
  "color": {"condition": {"test": "datum.w === 1", "value": "#FFFFFF"}, "field": "v", "type": "quantitative",
            "scale": {"domain": [0, 12.5, 37.5, 62.5, 87.5, 100], "range": ["#00008F", "#0000FF", "#00FFFF", "#FFFF00", "#FF0000", "#800000"], "interpolate": "rgb"}, "legend": null},
  "stroke": {"condition": {"test": "datum.w === 1", "value": "#FFFFFF"}, "field": "v", "type": "quantitative",
            "scale": {"domain": [0, 12.5, 37.5, 62.5, 87.5, 100], "range": ["#00008F", "#0000FF", "#00FFFF", "#FFFF00", "#FF0000", "#800000"], "interpolate": "rgb"}, "legend": null}
 }},
{"mark": {"type": "rect", "opacity": 0},
 "encoding": {
  "x": {"field": "c", "type": "ordinal", "axis": {"orient": "top", "values": [5,10,15,20,25], "labels": false, "title": null, "tickSize": -9, "tickColor": "black", "tickWidth": 1.5, "domainColor": "black", "domainWidth": 2, "grid": false}},
  "y": {"field": "r", "type": "ordinal", "axis": {"orient": "right", "values": [5,10,15,20], "labels": false, "title": null, "tickSize": -9, "tickColor": "black", "tickWidth": 1.5, "domainColor": "black", "domainWidth": 2, "grid": false}}
 }}
],
"resolve": {"axis": {"x": "independent", "y": "independent"}}
},
{
"title": {"text": "backpressure", "fontSize": 36, "fontWeight": "bold", "font": "Liberation Sans", "color": "black", "baseline": "alphabetic", "offset": -15, "anchor": "middle"},
"width": 996, "height": 974,
"data": {"name": "bp"},
"layer": [
{"mark": {"type": "rect", "strokeWidth": 1.2},
 "encoding": {
  "x": {"field": "c", "type": "ordinal", "scale": {"paddingInner": 0, "paddingOuter": 0},
        "axis": {"orient": "bottom", "values": [5,10,15,20,25], "labelExpr": "datum.value == 5 ? '1' : datum.value == 10 ? '3' : datum.value == 15 ? '6' : datum.value == 20 ? '7' : '9'", "labelAngle": 0, "labelFontSize": 26, "labelFont": "Liberation Sans", "labelColor": "black", "labelPadding": 19, "tickSize": -9, "tickColor": "black", "tickWidth": 1.5, "domainColor": "black", "domainWidth": 2, "grid": false, "title": "x nodes", "titleFontSize": 30, "titleFontWeight": "normal", "titleFont": "Liberation Sans", "titleColor": "black", "titlePadding": 7}},
  "y": {"field": "r", "type": "ordinal", "scale": {"paddingInner": 0, "paddingOuter": 0},
        "axis": {"orient": "left", "values": [5,10,15,20], "labelExpr": "datum.value == 5 ? '7' : datum.value == 10 ? '5' : datum.value == 15 ? '3' : '1'", "labelFontSize": 26, "labelFont": "Liberation Sans", "labelColor": "black", "labelPadding": 20, "tickSize": -9, "tickColor": "black", "tickWidth": 1.5, "domainColor": "black", "domainWidth": 2, "grid": false, "title": "y nodes", "titleFontSize": 30, "titleFontWeight": "normal", "titleFont": "Liberation Sans", "titleColor": "black", "titlePadding": 10}},
  "color": {"condition": {"test": "datum.w === 1", "value": "#FFFFFF"}, "field": "v", "type": "quantitative",
            "scale": {"domain": [0, 12.5, 37.5, 62.5, 87.5, 100], "range": ["#00008F", "#0000FF", "#00FFFF", "#FFFF00", "#FF0000", "#800000"], "interpolate": "rgb"}, "legend": null},
  "stroke": {"condition": {"test": "datum.w === 1", "value": "#FFFFFF"}, "field": "v", "type": "quantitative",
            "scale": {"domain": [0, 12.5, 37.5, 62.5, 87.5, 100], "range": ["#00008F", "#0000FF", "#00FFFF", "#FFFF00", "#FF0000", "#800000"], "interpolate": "rgb"}, "legend": null}
 }},
{"mark": {"type": "rect", "opacity": 0},
 "encoding": {
  "x": {"field": "c", "type": "ordinal", "axis": {"orient": "top", "values": [5,10,15,20,25], "labels": false, "title": null, "tickSize": -9, "tickColor": "black", "tickWidth": 1.5, "domainColor": "black", "domainWidth": 2, "grid": false}},
  "y": {"field": "r", "type": "ordinal", "axis": {"orient": "right", "values": [5,10,15,20], "labels": false, "title": null, "tickSize": -9, "tickColor": "black", "tickWidth": 1.5, "domainColor": "black", "domainWidth": 2, "grid": false}}
 }}
],
"resolve": {"axis": {"x": "independent", "y": "independent"}}
}
],
"resolve": {"scale": {"color": "independent", "stroke": "independent"}}
}
